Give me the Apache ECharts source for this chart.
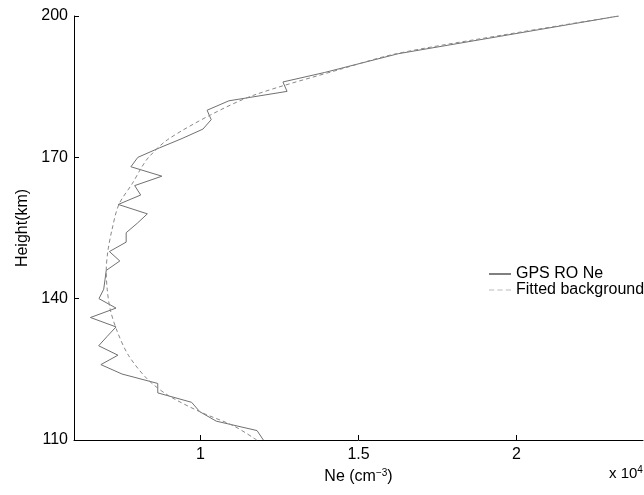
<!DOCTYPE html>
<html>
<head>
<meta charset="utf-8">
<script src="https://cdn.jsdelivr.net/npm/echarts@6/dist/echarts.min.js"></script>
<style>html,body{margin:0;padding:0;background:#fff}#c{width:644px;height:495px}</style>
</head>
<body>
<div id="c"></div>
<script>
// GPS RO electron density profile (Ne in units of 1e4 cm^-3, height in km)
var roHeight = [110,112,114,116,118,120,122,124,126,128,130,132,134,136,138,140,142,144,146,148,150,152,154,156,158,160,162,164,166,168,170,172,174,176,178,180,182,184,186,188,190,192,200];
var roNe = [1.199,1.179,1.050,0.998,0.972,0.865,0.865,0.752,0.685,0.739,0.678,0.705,0.733,0.652,0.733,0.679,0.694,0.698,0.702,0.745,0.712,0.765,0.765,0.800,0.832,0.740,0.811,0.792,0.878,0.780,0.802,0.870,0.942,1.008,1.034,1.021,1.090,1.274,1.261,1.392,1.509,1.626,2.323];
// fitted background profile
var fitHeight = [110,113,116,119.6,123,128,133,137.6,142,146,150,154.6,160,164.5,168,170,173.7,179,183.2,188.7,192,196,200];
var fitNe = [1.178,1.105,0.998,0.895,0.831,0.772,0.737,0.715,0.705,0.702,0.707,0.720,0.742,0.785,0.815,0.836,0.895,1.032,1.169,1.443,1.620,1.960,2.323];
var xTicks = [1, 1.5, 2];
var yTicks = [110, 140, 170, 200];

var roData = roNe.map(function(v,i){return [v, roHeight[i]];});
var fitData = fitNe.map(function(v,i){return [v, fitHeight[i]];});

var FONT = 'Liberation Sans, Arial, Helvetica, sans-serif';
var chart = echarts.init(document.getElementById('c'), null, {renderer:'canvas'});
chart.setOption({
  animation: false,
  backgroundColor: '#fff',
  textStyle: {fontFamily: FONT, color: '#000'},
  grid: {left: 74, right: 1, top: 16, bottom: 55, containLabel: false},
  xAxis: {
    type: 'value', min: 0.6, max: 2.4,
    axisLine: {show: true, lineStyle: {color: '#000', width: 1}},
    axisTick: {show: true, inside: true, length: 5, customValues: xTicks, lineStyle: {color: '#000'}},
    axisLabel: {show: true, customValues: xTicks, margin: 7, fontSize: 16, color: '#000', fontFamily: FONT},
    splitLine: {show: false},
    name: '{a|Ne (cm}{s|−3}{a|)}',
    nameLocation: 'middle', nameGap: 24,
    nameTextStyle: {rich: {a: {fontSize: 16, fontFamily: FONT, color: '#000'}, s: {fontSize: 10, fontFamily: FONT, color: '#000', verticalAlign: 'top', padding:[0,0,8,0]}}}
  },
  yAxis: {
    type: 'value', min: 110, max: 200,
    axisLine: {show: true, lineStyle: {color: '#000', width: 1}},
    axisTick: {show: true, inside: true, length: 5, customValues: yTicks, lineStyle: {color: '#000'}},
    axisLabel: {show: true, customValues: yTicks, margin: 6, fontSize: 16, color: '#000', fontFamily: FONT},
    splitLine: {show: false},
    name: 'Height(km)', nameLocation: 'middle', nameGap: 40,
    nameTextStyle: {fontSize: 16, fontFamily: FONT, color: '#000'}
  },
  legend: {
    orient: 'vertical', left: 484, top: 261, itemWidth: 22, itemHeight: 1, itemGap: 0,
    symbolKeepAspect: false,
    textStyle: {fontSize: 16, fontFamily: FONT, color: '#000', lineHeight: 15},
    data: [
      {name: 'GPS RO Ne', icon: 'path://M0,0H22V1H0Z'},
      {name: 'Fitted background', icon: 'path://M0,0H5V1H0Z M8,0H13V1H8Z M16,0H21V1H16Z'}
    ]
  },
  graphic: [{
    type: 'text', left: 609, top: 465,
    style: {text: '{a|x 10}{s|4}', rich: {a: {fontSize: 15, fontFamily: FONT, fill: '#000'}, s: {fontSize: 10, fontFamily: FONT, fill: '#000', verticalAlign: 'top', padding:[0,0,8,0]}}}
  }],
  series: [
    {name: 'GPS RO Ne', type: 'line', data: roData, symbol: 'none', smooth: false,
     lineStyle: {color: '#707070', width: 1}, itemStyle: {color: '#000'}},
    {name: 'Fitted background', type: 'line', data: fitData, symbol: 'none', smooth: 0.3,
     lineStyle: {color: '#888', width: 1, type: [4,3]}, itemStyle: {color: '#bbb'}}
  ]
});
</script>
</body>
</html>
